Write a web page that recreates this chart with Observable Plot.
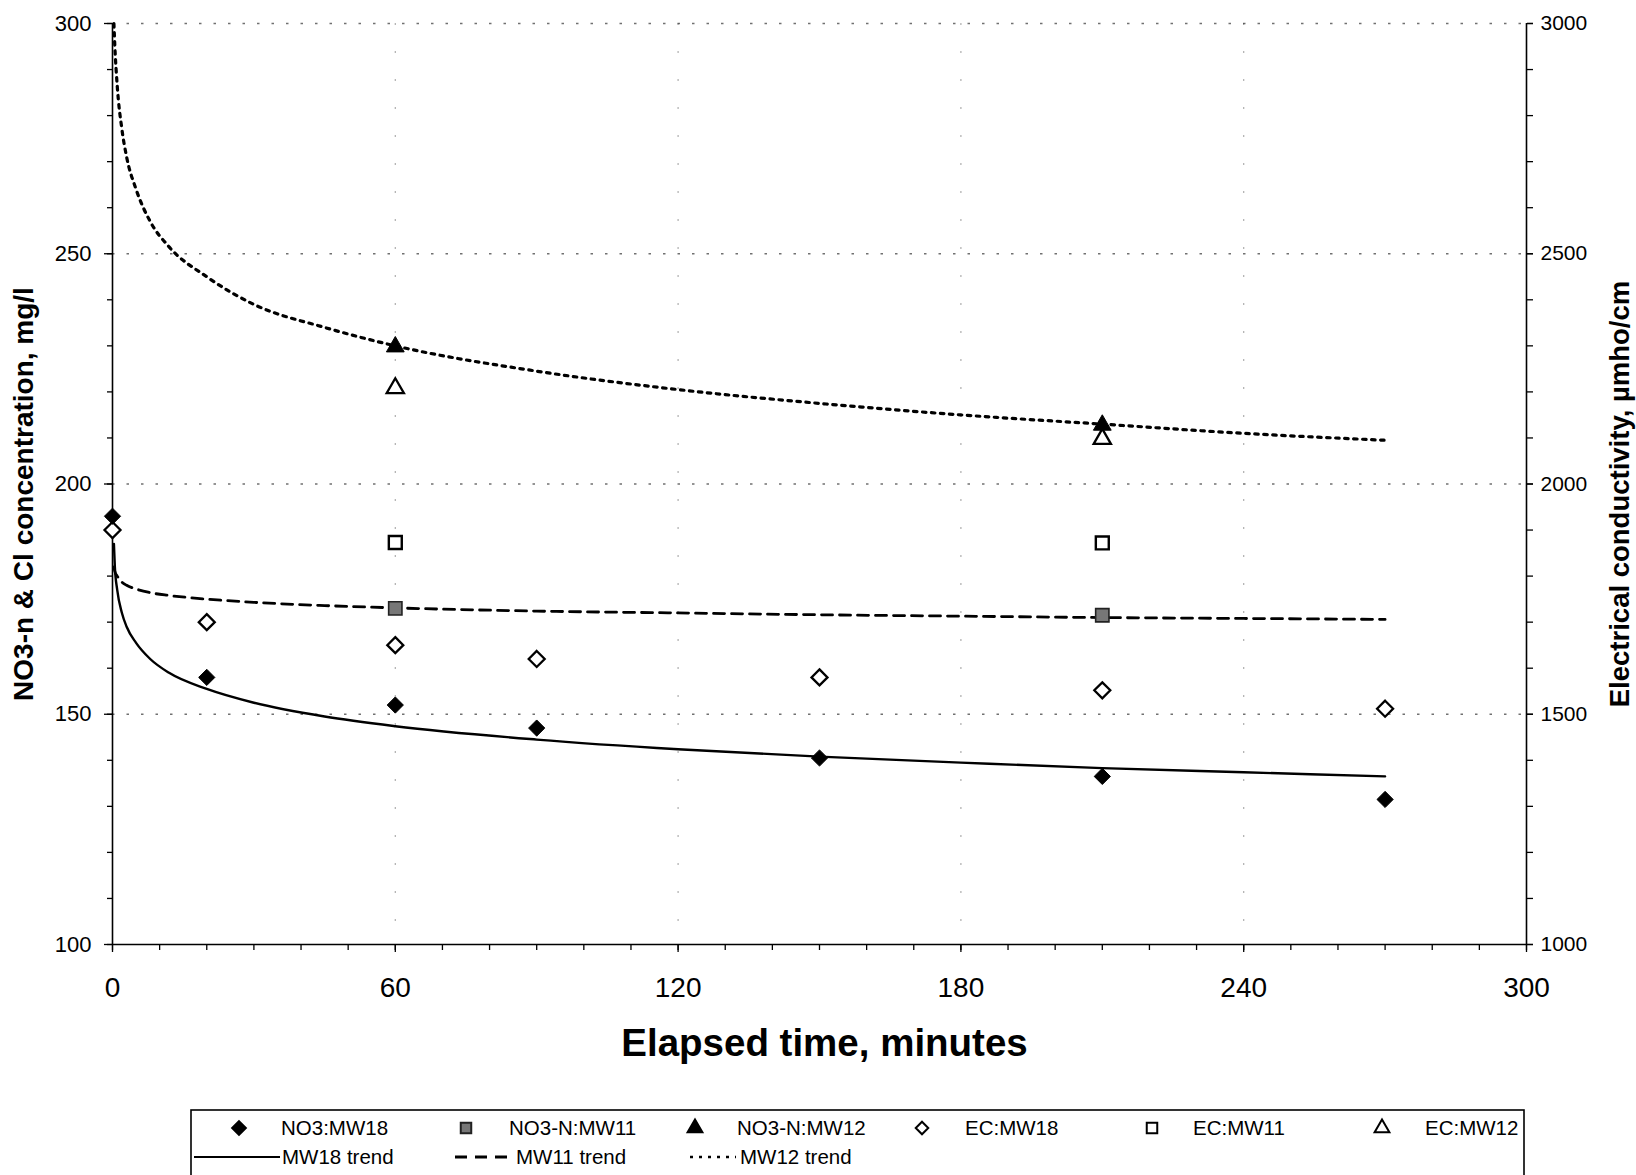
<!DOCTYPE html>
<html><head><meta charset="utf-8">
<script src="https://cdn.jsdelivr.net/npm/d3@7"></script>
<script src="https://cdn.jsdelivr.net/npm/@observablehq/plot@0.6"></script>
<style>
body{margin:0;background:#fff;font-family:"Liberation Sans",Arial,sans-serif;}
#chart{position:absolute;left:0;top:0;}
#legend{position:absolute;left:0;top:1100px;}
</style></head><body>
<div id="chart"></div>
<svg id="legend" width="1636" height="75"></svg>
<script>
// ---- data ----
const sampleTimesMW18 = [0, 20, 60, 90, 150, 210, 270];
const no3MW18 = [193, 158, 152, 147, 140.5, 136.5, 131.5];        // mg/l
const ecMW18 = [1900, 1700, 1650, 1620, 1580, 1552, 1512];        // µmho/cm
const sampleTimesMW11_12 = [60, 210];
const no3MW11 = [173, 171.5];
const ecMW11 = [1873, 1872];
const no3MW12 = [229.8, 212.8];
const ecMW12 = [2208, 2098];
const trendTimes = [0.3, 0.5, 1, 2, 3, 5, 8, 12, 20, 30, 45, 60, 90, 120, 150, 180, 210, 240, 270];
const trendMW18 = [187, 182, 177, 172, 169, 165.5, 162, 159, 155.5, 152.5, 149.5, 147.4, 144.5, 142.4, 140.8, 139.5, 138.3, 137.4, 136.5];
const trendMW11 = [182, 181, 180, 178.7, 178, 177.2, 176.4, 175.8, 175, 174.3, 173.6, 173.1, 172.4, 172, 171.6, 171.3, 171, 170.8, 170.6];
const trendMW12 = [300, 295, 286.5, 277, 271, 264, 257, 251.5, 245, 239, 234, 230, 224.5, 220.5, 217.5, 215, 213, 211, 209.5];
const xTicks = [0, 60, 120, 180, 240, 300];
const leftTicks = [100, 150, 200, 250, 300];
const rightTicks = [1000, 1500, 2000, 2500, 3000];
const legendLabels = ["NO3:MW18", "NO3-N:MW11", "NO3-N:MW12", "EC:MW18", "EC:MW11", "EC:MW12"];
const trendLabels = ["MW18 trend", "MW11 trend", "MW12 trend"];

// EC (right axis) shares the frame: 1000–3000 µmho/cm ↔ 100–300 mg/l
const EC_RATIO = rightTicks[0] / leftTicks[0];

const pts = (ts, vs) => ts.map((t, i) => ({t, v: vs[i]}));
const ecPts = (ts, vs) => ts.map((t, i) => ({t, v: vs[i] / EC_RATIO}));

const sNO3_18 = pts(sampleTimesMW18, no3MW18);
const sEC_18 = ecPts(sampleTimesMW18, ecMW18);
const sNO3_11 = pts(sampleTimesMW11_12, no3MW11);
const sEC_11 = ecPts(sampleTimesMW11_12, ecMW11);
const sNO3_12 = pts(sampleTimesMW11_12, no3MW12);
const sEC_12 = ecPts(sampleTimesMW11_12, ecMW12);
const tr18 = pts(trendTimes, trendMW18);
const tr11 = pts(trendTimes, trendMW11);
const tr12 = pts(trendTimes, trendMW12);

const FONT = "Liberation Sans, Arial, sans-serif";

const chart = Plot.plot({
  width: 1636,
  height: 1100,
  marginLeft: 112,
  marginRight: 110,
  marginTop: 23,
  marginBottom: 156,
  style: {fontFamily: FONT, color: "black", background: "white", overflow: "visible"},
  x: {domain: [0, 300], axis: null},
  y: {domain: [100, 300], axis: null},
  marks: [
    Plot.gridY({ticks: leftTicks.slice(1), stroke: "#333", strokeOpacity: 0.7, strokeWidth: 1.3, strokeDasharray: "2.5,12"}),
    Plot.gridX({ticks: xTicks.slice(1, -1), stroke: "#333", strokeOpacity: 0.4, strokeWidth: 1.2, strokeDasharray: "2,26"}),
    Plot.ruleX([0], {stroke: "black", strokeWidth: 1.6}),
    Plot.ruleX([300], {stroke: "black", strokeWidth: 1.6}),
    Plot.ruleY([100], {stroke: "black", strokeWidth: 1.6}),
    // left axis
    Plot.axisY({anchor: "left", ticks: d3.range(100, 301, 10), tickSize: 5, tickFormat: () => "", label: null, strokeWidth: 1.3}),
    Plot.axisY({anchor: "left", ticks: leftTicks, tickSize: 8, tickPadding: 13, fontSize: 22, label: null, strokeWidth: 1.3}),
    // right axis (EC)
    Plot.axisY({anchor: "right", ticks: d3.range(100, 301, 10), tickSize: 6, tickFormat: () => "", label: null, strokeWidth: 1.3}),
    Plot.axisY({anchor: "right", ticks: leftTicks, tickSize: 6, tickPadding: 8, fontSize: 21,
      tickFormat: d => String(Math.round(d * EC_RATIO)), label: null, strokeWidth: 1.3}),
    // bottom axis
    Plot.axisX({ticks: d3.range(0, 301, 10), tickSize: 6, tickFormat: () => "", label: null, strokeWidth: 1.3}),
    Plot.axisX({ticks: xTicks, tickSize: 8, tickPadding: 25, fontSize: 28, label: null, strokeWidth: 1.3}),
    // trend lines
    Plot.line(tr18, {x: "t", y: "v", stroke: "black", strokeWidth: 2.4, curve: "monotone-x"}),
    Plot.line(tr11, {x: "t", y: "v", stroke: "black", strokeWidth: 2.8, strokeDasharray: "11,7", curve: "monotone-x"}),
    Plot.line(tr12, {x: "t", y: "v", stroke: "black", strokeWidth: 3.2, strokeDasharray: "3.5,5.5", curve: "monotone-x"}),
    // points
    Plot.dot(sEC_18, {x: "t", y: "v", symbol: "diamond2", r: 7.2, fill: "white", stroke: "black", strokeWidth: 2.3}),
    Plot.dot(sEC_11, {x: "t", y: "v", symbol: "square", r: 7.3, fill: "white", stroke: "black", strokeWidth: 2.4}),
    Plot.dot(sEC_12, {x: "t", y: "v", symbol: "triangle", r: 6.4, fill: "white", stroke: "black", strokeWidth: 2.3}),
    Plot.dot(sNO3_18, {x: "t", y: "v", symbol: "diamond2", r: 7.3, fill: "black", stroke: "black", strokeWidth: 1}),
    Plot.dot(sNO3_11, {x: "t", y: "v", symbol: "square", r: 7.5, fill: "#777", stroke: "#222", strokeWidth: 1.6}),
    Plot.dot(sNO3_12, {x: "t", y: "v", symbol: "triangle", r: 6.6, fill: "black", stroke: "black", strokeWidth: 1}),
    // axis titles
    Plot.text(["NO3-n & Cl concentration, mg/l"], {text: d => d, frameAnchor: "left", dx: -88, dy: 10, rotate: -90,
      textAnchor: "middle", lineAnchor: "middle", fontSize: 28, fontWeight: "bold"}),
    Plot.text(["Electrical conductivity, µmho/cm"], {text: d => d, frameAnchor: "right", dx: 94, dy: 10, rotate: -90,
      textAnchor: "middle", lineAnchor: "middle", fontSize: 27.5, fontWeight: "bold"}),
    Plot.text(["Elapsed time, minutes"], {text: d => d, frameAnchor: "bottom", dx: 5, dy: 99,
      textAnchor: "middle", lineAnchor: "middle", fontSize: 38.5, fontWeight: "bold"})
  ]
});
document.getElementById("chart").appendChild(chart);

// ---- legend (below the chart) ----
const lg = d3.select("#legend");
lg.append("rect").attr("x", 191).attr("y", 10).attr("width", 1333).attr("height", 90)
  .attr("fill", "white").attr("stroke", "black").attr("stroke-width", 1.6);
const row1 = 28, row2 = 57;
const symItems = [
  {type: d3.symbolDiamond2, size: 120, fill: "black", stroke: "black", sx: 239, tx: 281},
  {type: d3.symbolSquare, size: 110, fill: "#777", stroke: "#222", sx: 466, tx: 509},
  {type: d3.symbolTriangle, size: 95, fill: "black", stroke: "black", sx: 695, tx: 737},
  {type: d3.symbolDiamond2, size: 100, fill: "white", stroke: "black", sx: 922, tx: 965},
  {type: d3.symbolSquare, size: 110, fill: "white", stroke: "black", sx: 1152, tx: 1193},
  {type: d3.symbolTriangle, size: 95, fill: "white", stroke: "black", sx: 1382, tx: 1425}
];
symItems.forEach((it, i) => {
  lg.append("path").attr("d", d3.symbol().type(it.type).size(it.size)())
    .attr("transform", `translate(${it.sx},${row1})`)
    .attr("fill", it.fill).attr("stroke", it.stroke).attr("stroke-width", 2);
  lg.append("text").attr("x", it.tx).attr("y", row1).attr("dy", "0.35em")
    .attr("font-size", 20.5).attr("font-family", FONT).text(legendLabels[i]);
});
const lineItems = [
  {x1: 194, x2: 280, dash: null, w: 2, tx: 282},
  {x1: 455, x2: 511, dash: "12,8", w: 2.8, tx: 516},
  {x1: 690, x2: 736, dash: "3,6", w: 2.5, tx: 740}
];
lineItems.forEach((it, i) => {
  lg.append("line").attr("x1", it.x1).attr("x2", it.x2).attr("y1", row2).attr("y2", row2)
    .attr("stroke", "black").attr("stroke-width", it.w).attr("stroke-dasharray", it.dash);
  lg.append("text").attr("x", it.tx).attr("y", row2).attr("dy", "0.35em")
    .attr("font-size", 20.5).attr("font-family", FONT).text(trendLabels[i]);
});
</script>
</body></html>
